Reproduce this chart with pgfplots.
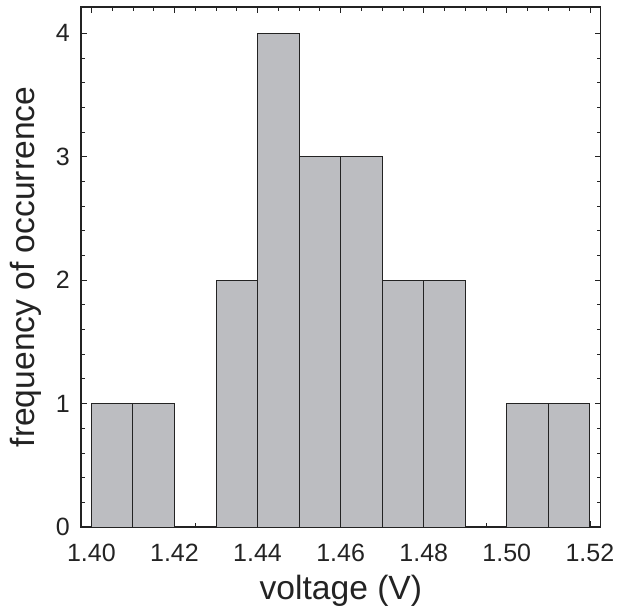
\documentclass[border=0pt]{standalone}
\usepackage{pgfplots}
\pgfplotsset{compat=1.18}
\usepackage{fontspec}
\setmainfont{Liberation Sans}

\definecolor{bargray}{RGB}{188,189,193}
\definecolor{edge}{RGB}{35,35,35}

\begin{document}
\begin{tikzpicture}
\begin{axis}[
  name=ax,
  scale only axis,
  width=519.7pt, height=520pt,
  xmin=1.3975, xmax=1.5226,
  ymin=0, ymax=4.213,
  xtick={1.40,1.42,...,1.52},
  ytick={0,1,2,3,4},
  minor x tick num=3,
  minor y tick num=4,
  tick align=inside,
  tick pos=both,
  major tick length=6pt,
  minor tick length=4pt,
  every tick/.style={edge, line width=0.8pt},
  axis line style={edge, line width=1.2pt},
  /pgf/number format/assume math mode=true,
  tick label style={font=\fontsize{25}{25}\selectfont, text=edge, inner sep=0pt},
  xticklabel style={anchor=base, yshift=-35pt,
    /pgf/number format/.cd, fixed, fixed zerofill, precision=2},
  yticklabel style={anchor=east, xshift=-11pt},
  label style={font=\fontsize{33.6}{33.6}\selectfont, text=edge, inner sep=0pt},
  xlabel={voltage (V)},
  ylabel={frequency of occurrence},
  xlabel style={at={(axis description cs:0.5,0)}, anchor=base, yshift=-73pt},
  ylabel style={at={(axis description cs:0,0.5)}, anchor=base, yshift=46pt},
]
% histogram, bins of 0.01 V
\addplot[ybar, bar width=0.01, bar shift=0pt, fill=bargray, draw=edge, line width=0.9pt]
  coordinates {
    (1.405,1) (1.415,1)
    (1.435,2) (1.445,4) (1.455,3) (1.465,3) (1.475,2) (1.485,2)
    (1.505,1) (1.515,1)
  };
\end{axis}
% match the reference margins
\path (ax.south west) ++(-81pt,-82pt) (ax.north east) ++(22.3pt,7pt);
\end{tikzpicture}
\end{document}
